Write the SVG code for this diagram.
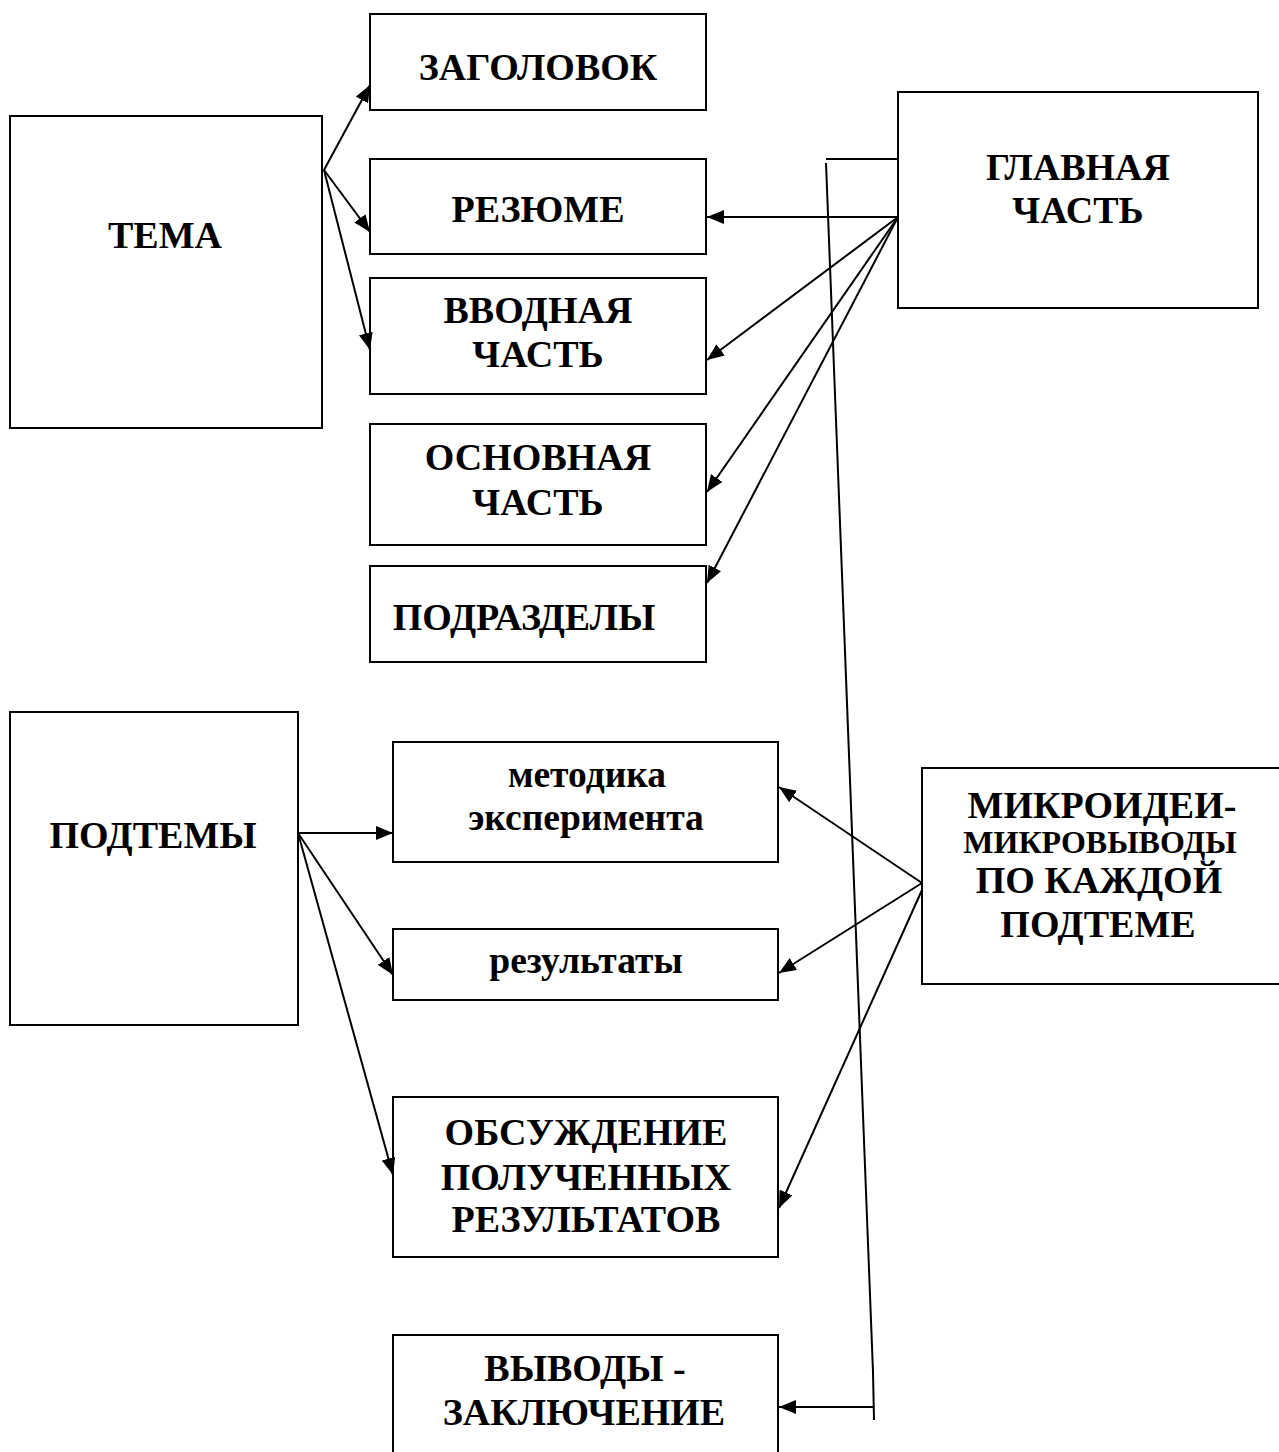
<svg xmlns="http://www.w3.org/2000/svg" width="1279" height="1452" viewBox="0 0 1279 1452">
  <style>
    .box { fill: #fff; stroke: #000; stroke-width: 2; }
    .lbl { font-family: "Liberation Serif", "Times New Roman", serif; font-weight: bold; font-size: 38px; fill: #000; text-anchor: middle; }
    .lbl-sm { font-size: 37.5px; }
    .wire { fill: none; stroke: #000; stroke-width: 2; }
    .arrow { marker-end: url(#head); }
  </style>
  <defs>
    <marker id="head" markerUnits="userSpaceOnUse" markerWidth="18" markerHeight="14" refX="17" refY="7" orient="auto">
      <path d="M0,0 L17,7 L0,14 Z" fill="#000"/>
    </marker>
  </defs>
  <rect width="1279" height="1452" fill="#fff"/>

  <!-- top section -->
  <g id="tema">
    <rect class="box" x="10" y="116" width="312" height="312"/>
    <text class="lbl" x="165" y="248">ТЕМА</text>
  </g>
  <g id="zagolovok">
    <rect class="box" x="370" y="14" width="336" height="96"/>
    <text class="lbl" x="538" y="80">ЗАГОЛОВОК</text>
  </g>
  <g id="rezyume">
    <rect class="box" x="370" y="159" width="336" height="95"/>
    <text class="lbl" x="538" y="222">РЕЗЮМЕ</text>
  </g>
  <g id="vvodnaya">
    <rect class="box" x="370" y="278" width="336" height="116"/>
    <text class="lbl" x="538" y="323">ВВОДНАЯ</text>
    <text class="lbl" x="538" y="367">ЧАСТЬ</text>
  </g>
  <g id="osnovnaya">
    <rect class="box" x="370" y="424" width="336" height="121"/>
    <text class="lbl" x="538" y="470">ОСНОВНАЯ</text>
    <text class="lbl" x="538" y="515">ЧАСТЬ</text>
  </g>
  <g id="podrazdely">
    <rect class="box" x="370" y="566" width="336" height="96"/>
    <text class="lbl" x="524" y="630">ПОДРАЗДЕЛЫ</text>
  </g>
  <g id="glavnaya">
    <rect class="box" x="898" y="92" width="360" height="216"/>
    <text class="lbl" x="1078" y="180">ГЛАВНАЯ</text>
    <text class="lbl" x="1078" y="223">ЧАСТЬ</text>
  </g>

  <!-- bottom section -->
  <g id="podtemy">
    <rect class="box" x="10" y="712" width="288" height="313"/>
    <text class="lbl" x="153" y="848">ПОДТЕМЫ</text>
  </g>
  <g id="metodika">
    <rect class="box" x="393" y="742" width="385" height="120"/>
    <text class="lbl lbl-sm" x="587" y="787">методика</text>
    <text class="lbl lbl-sm" x="586" y="830">эксперимента</text>
  </g>
  <g id="rezultaty">
    <rect class="box" x="393" y="929" width="385" height="71"/>
    <text class="lbl lbl-sm" x="586" y="973">результаты</text>
  </g>
  <g id="obsuzhdenie">
    <rect class="box" x="393" y="1097" width="385" height="160"/>
    <text class="lbl" x="586" y="1145">ОБСУЖДЕНИЕ</text>
    <text class="lbl" x="586" y="1190">ПОЛУЧЕННЫХ</text>
    <text class="lbl" x="586" y="1232">РЕЗУЛЬТАТОВ</text>
  </g>
  <g id="mikroidei">
    <rect class="box" x="922" y="768" width="370" height="216"/>
    <text class="lbl" x="1102" y="818">МИКРОИДЕИ-</text>
    <text class="lbl" x="1100" y="853" style="font-size:32px">МИКРОВЫВОДЫ</text>
    <text class="lbl" x="1099" y="893">ПО КАЖДОЙ</text>
    <text class="lbl" x="1098" y="937">ПОДТЕМЕ</text>
  </g>
  <g id="vyvody">
    <rect class="box" x="393" y="1335" width="385" height="140"/>
    <text class="lbl" x="585" y="1381">ВЫВОДЫ -</text>
    <text class="lbl" x="584" y="1425">ЗАКЛЮЧЕНИЕ</text>
  </g>

  <g id="connectors">
    <!-- from ТЕМА -->
    <line class="wire arrow" x1="324" y1="170" x2="370" y2="85"/>
    <line class="wire arrow" x1="324" y1="170" x2="370" y2="232"/>
    <line class="wire arrow" x1="324" y1="170" x2="370" y2="350"/>
    <!-- from ГЛАВНАЯ ЧАСТЬ -->
    <line class="wire arrow" x1="898" y1="217" x2="707" y2="217"/>
    <line class="wire arrow" x1="898" y1="217" x2="707" y2="360"/>
    <line class="wire arrow" x1="898" y1="217" x2="707" y2="492"/>
    <line class="wire arrow" x1="898" y1="217" x2="707" y2="583"/>
    <!-- long lead down to the conclusions -->
    <polyline class="wire" points="898,159 826,159"/>
    <polyline class="wire" points="826,163 873,1372 874,1420"/>
    <line class="wire arrow" x1="874" y1="1407" x2="779" y2="1407"/>
    <!-- from ПОДТЕМЫ -->
    <line class="wire arrow" x1="298" y1="833" x2="393" y2="833"/>
    <line class="wire arrow" x1="298" y1="833" x2="393" y2="975"/>
    <line class="wire arrow" x1="298" y1="833" x2="393" y2="1175"/>
    <!-- from МИКРОИДЕИ -->
    <line class="wire arrow" x1="922" y1="883" x2="779" y2="787"/>
    <line class="wire arrow" x1="922" y1="883" x2="779" y2="973"/>
    <line class="wire arrow" x1="922" y1="890" x2="779" y2="1208"/>
  </g>
</svg>
